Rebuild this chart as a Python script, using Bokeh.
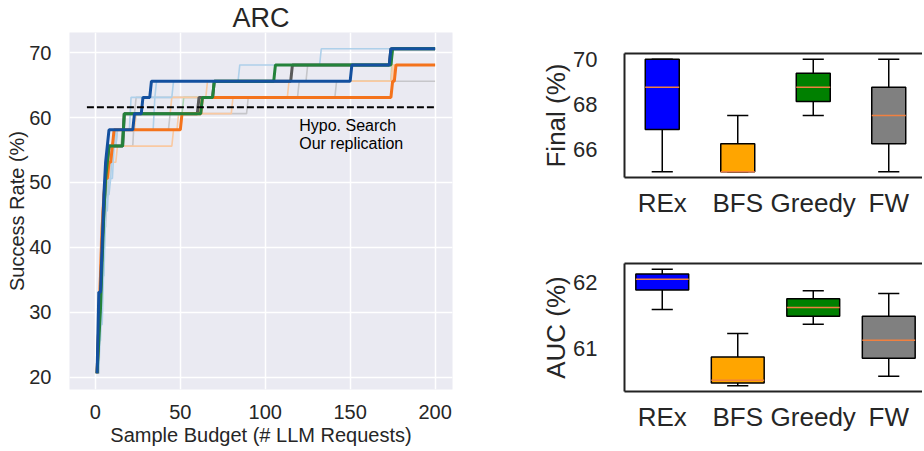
from bokeh.plotting import figure
from bokeh.layouts import row, column
from bokeh.models import Range1d, Label, FixedTicker, LinearAxis, ColumnDataSource
from bokeh.embed import file_html
from bokeh.resources import INLINE

# ---------------- data: ARC success-rate curves ----------------
budget_max = 200
start_budget = 1
start_rate = 20.6
x_ticks = [0, 50, 100, 150, 200]
y_ticks = [20, 30, 40, 50, 60, 70]

# (budget at which the success rate changes, new success rate)
rex_x = [2, 3, 4, 5, 6, 7, 8, 23, 28, 33, 151, 174]
rex_y = [33.1, 33.1, 40.6, 48.1, 53.1, 55.6, 58.1, 60.6, 63.1, 65.6, 68.1, 70.6]
bfs_x = [2, 3, 4, 5, 6, 8, 10, 11, 51, 63, 175, 177]
bfs_y = [28.1, 35.6, 43.1, 48.1, 50.6, 53.1, 55.6, 58.1, 60.6, 63.1, 65.6, 68.1]
greedy_x = [2, 3, 4, 5, 6, 7, 8, 17, 63, 70, 106, 175]
greedy_y = [25.6, 30.6, 38.1, 45.6, 50.6, 53.1, 55.6, 60.6, 63.1, 65.6, 68.1, 70.6]
fw_x = [2, 3, 4, 5, 6, 7, 8, 17, 61, 70, 116, 174]
fw_y = [28.1, 33.1, 40.6, 45.6, 50.6, 53.1, 55.6, 60.6, 63.1, 65.6, 68.1, 70.6]

# faint (other runs)
rex_b_x = [3, 5, 6, 7, 9, 11, 13, 21, 36, 85, 133]
rex_b_y = [28.1, 38.1, 45.6, 48.1, 50.6, 55.6, 58.1, 63.1, 65.6, 68.1, 70.6]
rex_c_x = [2, 4, 6, 8, 10, 12, 35, 46, 151, 174]
rex_c_y = [25.6, 35.6, 45.6, 50.6, 55.6, 58.1, 63.1, 65.6, 68.1, 70.6]
bfs_b_x = [2, 3, 4, 5, 6, 9, 13, 46, 49, 81, 114, 176]
bfs_b_y = [30.6, 40.6, 45.6, 48.1, 50.6, 53.1, 55.6, 58.1, 60.6, 63.1, 65.6, 68.1]
bfs_c_x = [2, 4, 6, 8, 10, 11, 24, 45, 66, 175]
bfs_c_y = [33.1, 45.6, 50.6, 53.1, 55.6, 58.1, 60.6, 63.1, 65.6, 68.1]
greedy_b_x = [2, 3, 5, 7, 8, 16, 17, 52, 70, 175]
greedy_b_y = [28.1, 35.6, 45.6, 53.1, 55.6, 58.1, 60.6, 63.1, 65.6, 70.6]
fw_b_x = [2, 4, 6, 7, 8, 10, 23, 24, 120, 125, 175]
fw_b_y = [30.6, 40.6, 50.6, 53.1, 55.6, 55.6, 60.6, 63.1, 65.6, 68.1, 70.6]
fw_c_x = [3, 5, 7, 9, 13, 44, 90, 142]
fw_c_y = [33.1, 43.1, 50.6, 55.6, 58.1, 60.6, 63.1, 65.6]

hypo_rate = 61.6
hypo_x = [-5, 200]
hypo_labels = ["Hypo. Search", "Our replication"]

# ---------------- data: box plots ----------------
methods = ["REx", "BFS", "Greedy", "FW"]
final_lo = [65.0, 65.0, 67.5, 65.0]
final_q1 = [66.875, 65.0, 68.125, 66.25]
final_med = [68.75, 65.0, 68.75, 67.5]
final_q3 = [70.0, 66.25, 69.375, 68.75]
final_hi = [70.0, 67.5, 70.0, 70.0]
final_ticks = [66, 68, 70]

auc_lo = [61.59, 60.45, 61.37, 60.59]
auc_q1 = [61.88, 60.49, 61.49, 60.86]
auc_med = [62.04, 60.53, 61.62, 61.13]
auc_q3 = [62.12, 60.88, 61.75, 61.49]
auc_hi = [62.19, 61.23, 61.87, 61.83]
auc_ticks = [61, 62]

FONT = "Liberation Sans"
TXT = "#262626"


def curve(xs, ys):
    vx, vy = [start_budget], [start_rate]
    for b, v in zip(xs, ys):
        if b - 1 > vx[-1]:
            vx.append(b - 1)
            vy.append(vy[-1])
        vx.append(b)
        vy.append(v)
    vx.append(budget_max)
    vy.append(vy[-1])
    return vx, vy


# ---------------- left chart ----------------
xpad = (budget_max - hypo_x[0]) * 0.05
ypad = (max(rex_y) - start_rate) * 0.05
left = figure(width=468, height=448, output_backend="svg", toolbar_location=None,
              x_range=Range1d(hypo_x[0] - xpad, budget_max + xpad),
              y_range=Range1d(start_rate - ypad, max(rex_y) + ypad),
              min_border_left=69, min_border_right=16, min_border_top=30, min_border_bottom=58)
left.title.text = "ARC"
left.title.align = "center"
left.title.text_font = FONT
left.title.text_font_size = "27px"
left.title.text_font_style = "normal"
left.title.text_color = TXT
left.title.standoff = 0
left.title.offset = 0
left.background_fill_color = "#eaeaf2"
left.border_fill_color = "white"
left.outline_line_color = None
left.grid.grid_line_color = "white"
left.grid.grid_line_width = 1.5
left.xaxis.ticker = FixedTicker(ticks=x_ticks)
left.yaxis.ticker = FixedTicker(ticks=y_ticks)
for ax in (left.xaxis, left.yaxis):
    ax.axis_line_color = None
    ax.major_tick_line_color = None
    ax.minor_tick_line_color = None
    ax.major_label_text_font = FONT
    ax.major_label_text_font_size = "20px"
    ax.major_label_text_color = TXT
    ax.axis_label_text_font = FONT
    ax.axis_label_text_font_size = "20px"
    ax.axis_label_text_font_style = "normal"
    ax.axis_label_text_color = TXT
left.xaxis.major_label_standoff = 9
left.xaxis.axis_label_standoff = 2
left.yaxis.major_label_standoff = 12
left.yaxis.axis_label_standoff = -2
left.xaxis.axis_label = "Sample Budget (# LLM Requests)"
left.yaxis.axis_label = "Success Rate (%)"

faint = [
    (fw_b_x, fw_b_y, "#c6c6ca"), (fw_c_x, fw_c_y, "#c6c6ca"),
    (greedy_b_x, greedy_b_y, "#acd5b0"),
    (bfs_b_x, bfs_b_y, "#f9c9a2"), (bfs_c_x, bfs_c_y, "#f9c9a2"),
    (rex_b_x, rex_b_y, "#aed0ea"), (rex_c_x, rex_c_y, "#aed0ea"),
]
for xs, ys, c in faint:
    vx, vy = curve(xs, ys)
    left.line(vx, vy, line_color=c, line_width=1.6)

bold = [
    (fw_x, fw_y, "#5a5a5a"),
    (bfs_x, bfs_y, "#f4731c"),
    (greedy_x, greedy_y, "#23823a"),
    (rex_x, rex_y, "#13509f"),
]
for xs, ys, c in bold:
    vx, vy = curve(xs, ys)
    left.line(vx, vy, line_color=c, line_width=3)

left.line(hypo_x, [hypo_rate, hypo_rate], line_color="black", line_width=2, line_dash="7 3")
left.add_layout(Label(x=120, y=58.7, text=hypo_labels[0], text_font=FONT, text_font_size="16px",
                      text_color="black", text_baseline="alphabetic"))
left.add_layout(Label(x=120, y=56.05, text=hypo_labels[1], text_font=FONT, text_font_size="16px",
                      text_color="black", text_baseline="alphabetic"))

# ---------------- box plots ----------------
box_colors = ["#0000ff", "#ffa500", "#008000", "#808080"]
RIGHT_W = 454
BORDER_L = 156
PX_PER_UNIT = 75.5


def box_fig(height, lo, q1, med, q3, hi, ticks, label, width, top_b, bot_b):
    pad = (max(hi) - min(lo)) * 0.05
    x_end = 0.5 + (RIGHT_W - BORDER_L) / PX_PER_UNIT
    p = figure(width=RIGHT_W, height=height, output_backend="svg", toolbar_location=None,
               x_range=Range1d(0.5, x_end), y_range=Range1d(min(lo) - pad, max(hi) + pad),
               min_border_left=BORDER_L, min_border_right=0, min_border_top=top_b, min_border_bottom=bot_b)
    p.outline_line_color = None
    p.grid.grid_line_color = None
    p.background_fill_color = "white"
    pos = list(range(1, len(methods) + 1))
    cw = 0.14
    src = ColumnDataSource(dict(
        x=pos, lo=lo, q1=q1, med=med, q3=q3, hi=hi, color=box_colors,
        cl=[x - cw for x in pos], cr=[x + cw for x in pos],
        bl=[x - width / 2 for x in pos], br=[x + width / 2 for x in pos]))
    p.segment(x0="x", y0="lo", x1="x", y1="q1", source=src, line_color="black", line_width=1.5)
    p.segment(x0="x", y0="q3", x1="x", y1="hi", source=src, line_color="black", line_width=1.5)
    p.segment(x0="cl", y0="lo", x1="cr", y1="lo", source=src, line_color="black", line_width=1.5)
    p.segment(x0="cl", y0="hi", x1="cr", y1="hi", source=src, line_color="black", line_width=1.5)
    p.quad(left="bl", right="br", bottom="q1", top="q3", source=src, fill_color="color",
           line_color="black", line_width=1.5)
    p.segment(x0="bl", y0="med", x1="br", y1="med", source=src, line_color="#f08040", line_width=1.5)

    p.xaxis.ticker = FixedTicker(ticks=pos)
    p.xaxis.major_label_overrides = {i + 1: m for i, m in enumerate(methods)}
    p.yaxis.ticker = FixedTicker(ticks=ticks)
    p.yaxis.axis_label = label
    for ax in (p.xaxis, p.yaxis):
        ax.axis_line_color = "#222222"
        ax.axis_line_width = 2
        ax.major_tick_line_color = None
        ax.minor_tick_line_color = None
        ax.major_label_text_font = FONT
        ax.major_label_text_color = TXT
        ax.axis_label_text_font = FONT
        ax.axis_label_text_font_size = "26px"
        ax.axis_label_text_font_style = "normal"
        ax.axis_label_text_color = TXT
    p.xaxis.major_label_text_font_size = "26px"
    p.yaxis.major_label_text_font_size = "22px"
    p.xaxis.major_label_standoff = 4
    p.yaxis.major_label_standoff = 21
    p.yaxis.axis_label_standoff = -1
    top_ax = LinearAxis(ticker=FixedTicker(ticks=[]), axis_line_color="#222222", axis_line_width=2,
                        major_tick_line_color=None, minor_tick_line_color=None,
                        major_label_text_font_size="0px")
    p.add_layout(top_ax, "above")
    return p


top_right = box_fig(230, final_lo, final_q1, final_med, final_q3, final_hi, final_ticks,
                    "Final (%)", 0.45, 53, 53)
bot_right = box_fig(218, auc_lo, auc_q1, auc_med, auc_q3, auc_hi, auc_ticks,
                    "AUC (%)", 0.7, 33, 57)

layout = row(left, column(top_right, bot_right))
open("out.html", "w").write(file_html(layout, INLINE))
